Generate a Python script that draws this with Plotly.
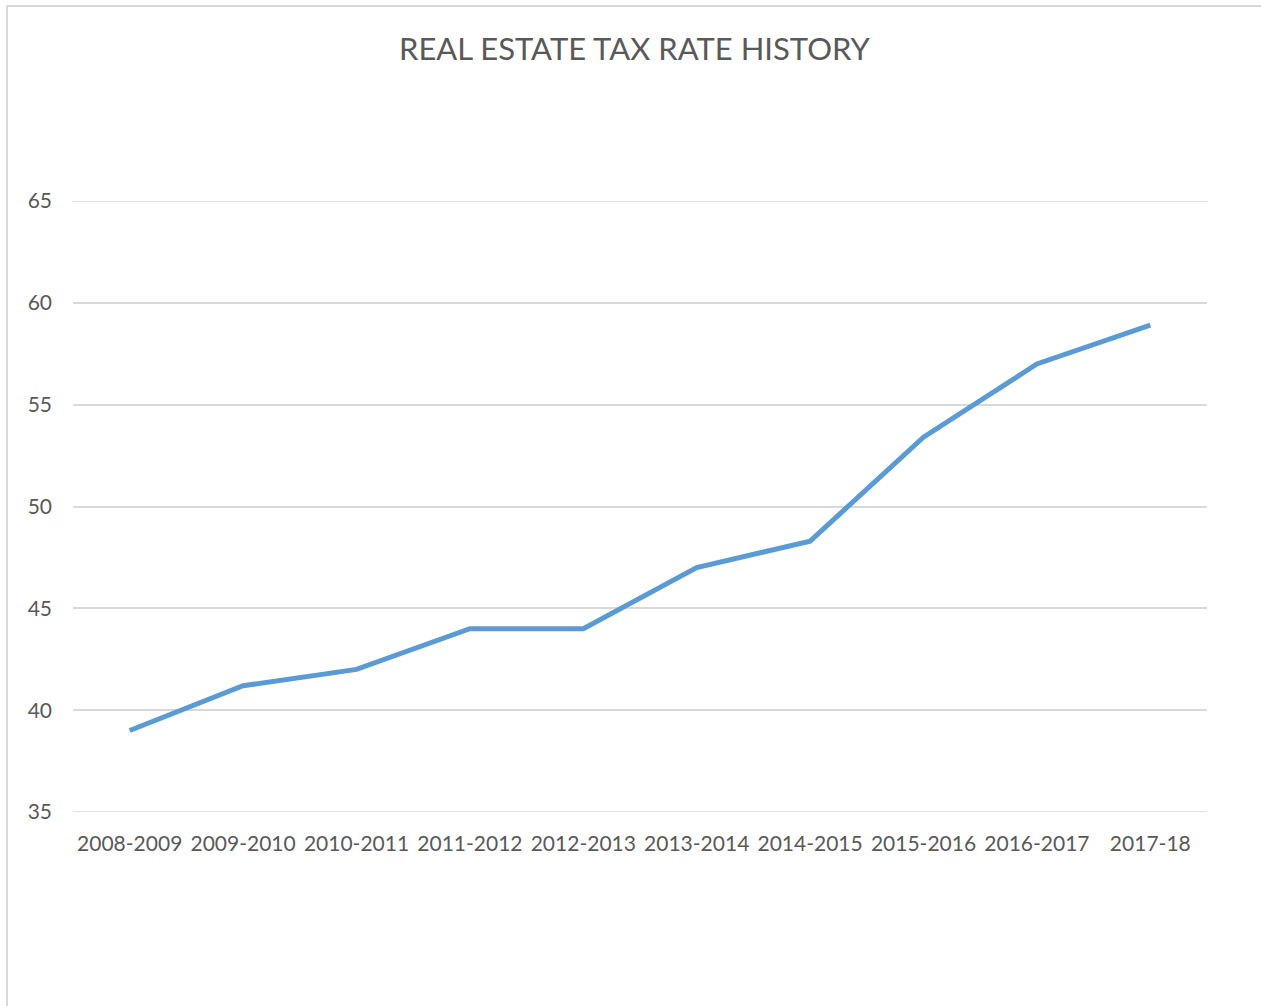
import plotly.graph_objects as go

# Fiscal years and the real estate tax rate for each
years = ["2008-2009", "2009-2010", "2010-2011", "2011-2012", "2012-2013",
         "2013-2014", "2014-2015", "2015-2016", "2016-2017", "2017-18"]
tax_rate = [39.0, 41.2, 42.0, 44.0, 44.0, 47.0, 48.3, 53.4, 57.0, 58.9]
y_ticks = [35, 40, 45, 50, 55, 60, 65]

W, H = 1261, 1006
L, R, T, B = 73, 54, 201, 194
pw, ph = W - L - R, H - T - B

grey_text = "#595959"
grid = "#d9d9d9"
font_family = "Lato, 'Open Sans', sans-serif"

fig = go.Figure()
fig.add_trace(go.Scatter(
    x=years, y=tax_rate, mode="lines",
    line=dict(color="#5b9bd5", width=5),
    hoverinfo="x+y", showlegend=False,
))

def px_x(p):
    return (p - L) / pw

def px_y(p):
    return (H - B - p) / ph

# plotly skips gridlines sitting on the plot edges, so draw the
# outermost ones (35 and 65) as shapes
edge_lines = [dict(
    type="line", xref="paper", yref="y", x0=0, x1=1, y0=v, y1=v,
    line=dict(color=grid, width=1.6), layer="below",
) for v in (y_ticks[0], y_ticks[-1])]

frame = dict(
    type="rect", xref="paper", yref="paper",
    x0=px_x(7), x1=px_x(W + 5), y0=px_y(H + 5), y1=px_y(6),
    line=dict(color=grid, width=2), fillcolor="rgba(0,0,0,0)",
    layer="below",
)

fig.update_layout(
    width=W, height=H,
    margin=dict(l=L, r=R, t=T, b=B),
    paper_bgcolor="white", plot_bgcolor="white",
    font=dict(family=font_family, color=grey_text),
    xaxis=dict(
        type="category", range=[-0.5, len(years) - 0.5],
        showgrid=False, zeroline=False, showline=False,
        ticks="", tickfont=dict(size=21, color=grey_text),
        ticklabelstandoff=17,
    ),
    yaxis=dict(
        range=[y_ticks[0], y_ticks[-1]], tickvals=y_ticks,
        showgrid=True, gridcolor=grid, gridwidth=1.6,
        zeroline=False, showline=False,
        ticks="", tickfont=dict(size=21, color=grey_text),
        ticklabelstandoff=20,
    ),
    shapes=[frame] + edge_lines,
    annotations=[dict(
        text="REAL ESTATE TAX RATE HISTORY",
        xref="paper", yref="paper", x=px_x(635), y=px_y(48),
        xanchor="center", yanchor="middle", showarrow=False,
        font=dict(size=31, color=grey_text, family=font_family),
    )],
)

fig.write_html("out.html")
